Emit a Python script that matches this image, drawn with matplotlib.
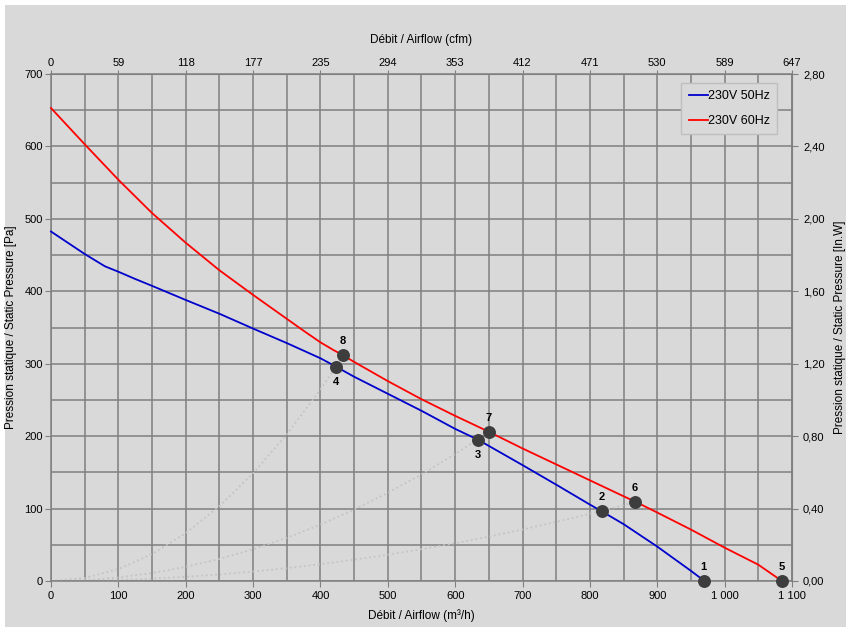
import matplotlib
matplotlib.use("Agg")
import matplotlib.pyplot as plt
from matplotlib.patches import Rectangle

plt.rcParams['font.family'] = ['Liberation Sans', 'DejaVu Sans']

# ---- data ----
flow_50 = [0, 25, 50, 65, 80, 100, 125, 150, 200, 250, 300, 350, 400, 423, 450, 500, 550, 600, 634,
           650, 700, 750, 800, 818, 850, 900, 950, 970]
pres_50 = [482.5, 467, 451.5, 443, 434.5, 427, 417, 407.5, 388, 369, 348.5, 328.5, 307.5, 296, 282,
           258.5, 235, 210, 195, 186.5, 160, 133, 105.5, 96, 78.5, 47.5, 14, 0]

flow_60 = [0, 50, 100, 150, 200, 250, 300, 350, 375, 400, 420, 433, 450, 500, 550, 600, 650,
           700, 750, 800, 850, 867, 900, 950, 1000, 1050, 1085]
pres_60 = [653, 603, 554, 508, 467, 429, 395, 362, 345.5, 329.5, 318.5, 312, 302.5, 276, 251, 228, 206,
           183, 161, 139, 117, 109.7, 94.5, 71, 46, 22.5, 0]

sys_a_x = [0, 50, 100, 150, 200, 250, 300, 350, 400, 433]
sys_a_y = [0, 4.1, 16.5, 37.2, 66.1, 103.3, 148.7, 202.5, 264.4, 310]
sys_b_x = [0, 50, 100, 150, 200, 250, 300, 350, 400, 450, 500, 550, 600, 650]
sys_b_y = [0, 1.2, 4.9, 11.0, 19.5, 30.4, 43.8, 59.6, 77.9, 98.6, 121.7, 147.3, 175.3, 205.7]
sys_c_x = [0, 50, 100, 150, 200, 250, 300, 350, 400, 450, 500, 550, 600, 650, 700, 750, 800, 850, 867]
sys_c_y = [0, 0.36, 1.45, 3.26, 5.8, 9.06, 13.05, 17.8, 23.2, 29.4, 36.3, 43.9, 52.2, 61.3,
           71.1, 81.6, 92.8, 104.8, 109]

pt_ids = ['1', '2', '3', '4', '5', '6', '7', '8']
pt_x = [969, 818, 634, 423, 1085, 867, 650, 433]
pt_y = [0, 96, 195, 296, 0, 109.7, 206, 312]
pt_label_below = [False, False, True, True, False, False, False, False]

x_ticks = [0, 100, 200, 300, 400, 500, 600, 700, 800, 900, 1000, 1100]
x_tick_labels = ['0', '100', '200', '300', '400', '500', '600', '700', '800', '900', '1 000', '1 100']
cfm_labels = ['0', '59', '118', '177', '235', '294', '353', '412', '471', '530', '589', '647']
y_ticks = [0, 100, 200, 300, 400, 500, 600, 700]
y_tick_labels = ['0', '100', '200', '300', '400', '500', '600', '700']
inwg_labels = ['0,00', '0,40', '0,80', '1,20', '1,60', '2,00', '2,40', '2,80']

BG = '#d9d9d9'
GRID = '#808080'

fig = plt.figure(figsize=(8.53, 6.37), dpi=100, facecolor='white')
fig.patches.append(Rectangle((5/853, 10/637), 841/853, 622/637, transform=fig.transFigure,
                             facecolor=BG, edgecolor='none', zorder=-10))

ax = fig.add_axes([51/853, 56/637, 741/853, 507/637])
ax.set_facecolor(BG)
ax.set_xlim(0, 1100)
ax.set_ylim(0, 700)

ax.set_xticks(x_ticks)
ax.set_xticklabels(x_tick_labels)
ax.set_yticks(y_ticks)
ax.set_yticklabels(y_tick_labels)
ax.set_xticks(list(range(50, 1100, 100)), minor=True)
ax.set_yticks(list(range(50, 700, 100)), minor=True)
ax.grid(True, which='both', color=GRID, linewidth=1.1, zorder=0)
ax.set_axisbelow(True)
ax.tick_params(which='major', length=4, color=GRID, labelsize=8, pad=3)
ax.tick_params(axis='y', which='major', pad=2)
ax.tick_params(which='minor', length=0)
for s in ax.spines.values():
    s.set_color(GRID)
    s.set_linewidth(1.1)

top = ax.secondary_xaxis('top')
top.set_xticks(x_ticks)
top.set_xticklabels(cfm_labels)
top.tick_params(length=3, color=GRID, labelsize=8, pad=1)
top.spines['top'].set_color(GRID)
top.set_xlabel('Débit / Airflow (cfm)', fontsize=8.5, labelpad=11)

right = ax.secondary_yaxis('right')
right.set_yticks(y_ticks)
right.set_yticklabels(inwg_labels)
right.tick_params(length=4, color=GRID, labelsize=8, pad=4)
right.spines['right'].set_color(GRID)
right.set_ylabel('Pression statique / Static Pressure [In.W]', fontsize=8.5, labelpad=7)

ax.set_xlabel('Débit / Airflow (m³/h)', fontsize=8.5, labelpad=6)
ax.set_ylabel('Pression statique / Static Pressure [Pa]', fontsize=8.5)
ax.yaxis.set_label_coords((17 - 51) / 741, 0.5)

dot_kw = dict(color='#c4c4c4', linestyle=(0, (1, 1.6)), linewidth=1.3, zorder=2)
ax.plot(sys_a_x, sys_a_y, **dot_kw)
ax.plot(sys_b_x, sys_b_y, **dot_kw)
ax.plot(sys_c_x, sys_c_y, **dot_kw)

ax.plot(flow_50, pres_50, color='#0000cc', linewidth=1.3, label='230V 50Hz', zorder=3, clip_on=False)
ax.plot(flow_60, pres_60, color='#ff0000', linewidth=1.3, label='230V 60Hz', zorder=3, clip_on=False)

ax.plot(pt_x, pt_y, 'o', color='#3d3d3d', markersize=8.3, zorder=5, clip_on=False)
for lab, x, y, below in zip(pt_ids, pt_x, pt_y, pt_label_below):
    dy = -15 if below else 14
    ax.annotate(lab, (x, y), xytext=(0, dy), textcoords='offset pixels',
                ha='center', va='center', fontsize=8, fontweight='bold', zorder=6)

leg = ax.legend(loc='upper right', bbox_to_anchor=(1078/1100, 687.6/700), fontsize=9,
                frameon=True, fancybox=False, handlelength=1.5, handletextpad=0.0,
                borderpad=0.6, labelspacing=1.0, borderaxespad=0)
leg.get_frame().set_facecolor(BG)
leg.get_frame().set_edgecolor('#bfbfbf')
leg.get_frame().set_linewidth(1.0)
leg.get_frame().set_alpha(1)

fig.savefig('out.png', dpi=100, facecolor='white')
